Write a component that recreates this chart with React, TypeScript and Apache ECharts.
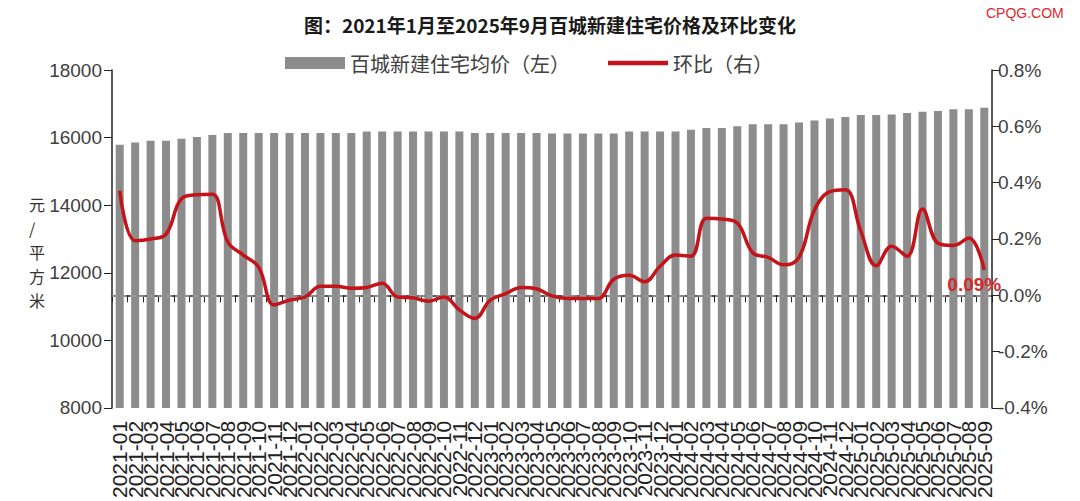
import React, { useEffect, useRef } from "react";
import * as echarts from "echarts";

const years = [2021, 2022, 2023, 2024, 2025];
const categories: string[] = [];
years.forEach((y) => {
  const last = y === 2025 ? 9 : 12;
  for (let m = 1; m <= last; m++) categories.push(`${y}-${m < 10 ? "0" + m : m}`);
});

const avgPrice = [
  15790, 15857, 15905, 15905, 15962, 16019, 16076, 16133, 16133, 16133,
  16133, 16133, 16133, 16133, 16133, 16133, 16180, 16180, 16180, 16180,
  16180, 16180, 16180, 16133, 16133, 16133, 16133, 16133, 16123, 16123,
  16123, 16123, 16123, 16180, 16180, 16180, 16180, 16229, 16286, 16286,
  16334, 16391, 16391, 16391, 16448, 16505, 16562, 16610, 16667, 16667,
  16686, 16724, 16762, 16790, 16838, 16838, 16886,
];

const momChange = [
  0.371, 0.194, 0.2, 0.217, 0.343, 0.357, 0.359, 0.189, 0.143, 0.1,
  -0.034, -0.017, -0.006, 0.032, 0.032, 0.025, 0.028, 0.043, -0.006, -0.009,
  -0.021, -0.006, -0.052, -0.082, -0.017, 0.006, 0.028, 0.023, -0.002, -0.011,
  -0.011, -0.011, 0.057, 0.071, 0.048, 0.103, 0.143, 0.139, 0.274, 0.271,
  0.257, 0.151, 0.135, 0.108, 0.135, 0.303, 0.368, 0.375, 0.228, 0.105,
  0.174, 0.139, 0.306, 0.185, 0.177, 0.203, 0.09,
];

const yAxisNameChars = ["元", "/", "平", "方", "米"];

export default function App() {
  const ref = useRef<HTMLDivElement>(null);
  useEffect(() => {
    document.body.style.margin = "0";
    if (!ref.current) return;
    const chart = echarts.init(ref.current, null, { renderer: "svg" });
    const font = "'Noto Sans CJK SC', 'Liberation Sans', sans-serif";
    const numFont = "'Liberation Sans', sans-serif";
    const lastIdx = momChange.length - 1;
    chart.setOption({
      animation: false,
      backgroundColor: "#ffffff",
      textStyle: { fontFamily: font },
      title: {
        text: "图：2021年1月至2025年9月百城新建住宅价格及环比变化",
        left: 545,
        textAlign: "center",
        top: 10,
        textStyle: { fontSize: 19, fontWeight: "bold", color: "#1a1a1a", fontFamily: font },
      },
      legend: {
        top: 48,
        left: 280,
        itemWidth: 60,
        itemHeight: 12,
        itemGap: 38,
        textStyle: { fontSize: 20, color: "#404040", fontFamily: font },
        data: [
          { name: "百城新建住宅均价（左）", icon: "rect" },
          { name: "环比（右）", icon: "path://M0,0h60v4.5h-60z" },
        ],
      },
      grid: { left: 112, right: 88, top: 70, bottom: 79 },
      xAxis: {
        type: "category",
        data: categories,
        axisLine: { lineStyle: { color: "#222", width: 1.5 } },
        axisTick: { show: true, lineStyle: { color: "#222" }, length: 7 },
        axisLabel: {
          interval: 0,
          rotate: 90,
          fontSize: 21,
          color: "#222",
          margin: 13,
          fontFamily: numFont,
        },
      },
      yAxis: [
        {
          type: "value",
          min: 8000,
          max: 18000,
          interval: 2000,
          axisLine: { show: true, lineStyle: { color: "#222", width: 1.5 } },
          axisTick: { show: true, length: 8, lineStyle: { color: "#222" } },
          splitLine: { show: false },
          axisLabel: {
            fontSize: 19,
            color: "#404040",
            margin: 10,
            fontFamily: numFont,
            formatter: (v: number) => String(v),
          },
        },
        {
          type: "value",
          min: -0.4,
          max: 0.8,
          interval: 0.2,
          axisLine: { show: true, lineStyle: { color: "#222", width: 1.5 } },
          axisTick: { show: true, length: 8, lineStyle: { color: "#222" } },
          splitLine: { show: false },
          axisLabel: {
            fontSize: 19,
            color: "#404040",
            margin: 6,
            fontFamily: numFont,
            formatter: (v: number) => v.toFixed(1) + "%",
          },
        },
      ],
      series: [
        {
          name: "百城新建住宅均价（左）",
          type: "bar",
          data: avgPrice,
          barWidth: 8,
          itemStyle: { color: "#8c8c8c" },
          yAxisIndex: 0,
        },
        {
          name: "环比（右）",
          type: "line",
          yAxisIndex: 1,
          data: momChange,
          smooth: 0.4,
          symbol: "none",
          lineStyle: { color: "#c4141a", width: 3.5 },
          itemStyle: { color: "#c4141a" },
          markLine: {
            silent: true,
            symbol: "none",
            label: { show: false },
            lineStyle: { color: "#9a9a9a", type: "dashed", width: 1.5 },
            data: [{ yAxis: 0 }],
          },
          markPoint: {
            silent: true,
            symbol: "circle",
            symbolSize: 0,
            data: [
              {
                coord: [categories[lastIdx], momChange[lastIdx]],
                label: {
                  show: true,
                  position: "bottom",
                  offset: [-10, 0],
                  formatter: momChange[lastIdx].toFixed(2) + "%",
                  color: "#d02a2e",
                  fontSize: 19,
                  fontWeight: "bold",
                  fontFamily: numFont,
                },
              },
            ],
          },
          z: 5,
        },
      ],
      graphic: yAxisNameChars
        .map((ch, i) => ({
          type: "text",
          left: 29,
          top: 196 + i * 24,
          style: {
            text: ch,
            fontSize: 16,
            fill: "#333",
            fontFamily: font,
          },
        }))
        .concat([
          {
            type: "text",
            left: 986,
            top: 6,
            style: {
              text: "CPQG.COM",
              fontSize: 14,
              fill: "#e0282e",
              fontFamily: numFont,
            },
          } as any,
        ]),
    });
    return () => chart.dispose();
  }, []);
  return <div ref={ref} style={{ width: 1080, height: 501 }} />;
}
